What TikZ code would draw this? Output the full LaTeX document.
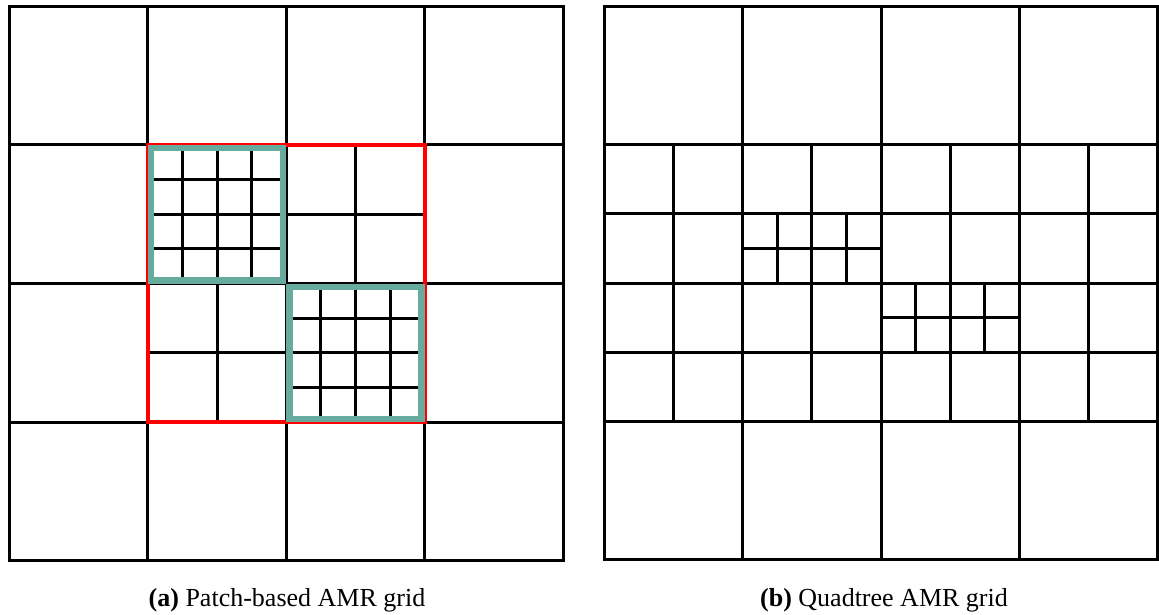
\documentclass[tikz,border=0pt]{standalone}
\usepackage{fontspec}
\setmainfont{Liberation Serif}
\definecolor{patchteal}{HTML}{67AB9F}
\begin{document}
\begin{tikzpicture}[x=1pt,y=-1pt,
  gridline/.style={black,line width=3pt,line cap=rect},
  levelbox/.style={red,line width=3.5pt},
  patchbox/.style={patchteal,line width=6.5pt},
  caption/.style={font=\fontsize{26}{31}\selectfont,anchor=base}]
\useasboundingbox (0,0) rectangle (1159,615);

% ---------- (a) patch-based AMR grid ----------
\begin{scope}[shift={(9.3,6.5)}]
  \def\c{138.5}
  % coarse 4x4 level
  \foreach \i in {0,...,4} {
    \draw[gridline] (\i*\c,0) -- (\i*\c,4*\c);
    \draw[gridline] (0,\i*\c) -- (4*\c,\i*\c);
  }
  % level-1 patch: 2x2 refinement of the central block
  \foreach \p in {1.5,2.5} {
    \draw[gridline] (\p*\c,\c) -- (\p*\c,3*\c);
    \draw[gridline] (\c,\p*\c) -- (3*\c,\p*\c);
  }
  % level-2 patches: 4x4 refinement
  \foreach \p in {1.25,1.75} {
    \draw[gridline] (\p*\c,\c) -- (\p*\c,2*\c);
    \draw[gridline] (\c,\p*\c) -- (2*\c,\p*\c);
  }
  \foreach \p in {2.25,2.75} {
    \draw[gridline] (\p*\c,2*\c) -- (\p*\c,3*\c);
    \draw[gridline] (2*\c,\p*\c) -- (3*\c,\p*\c);
  }
  \draw[levelbox] (\c,\c) rectangle (3*\c,3*\c);
  \draw[patchbox] (\c+3.25,\c+3.25) rectangle (2*\c-3.25,2*\c-3.25);
  \draw[patchbox] (2*\c+3.25,2*\c+3.25) rectangle (3*\c-3.25,3*\c-3.25);
\end{scope}
\node[caption] (capa) at (287,606) {\textbf{(a)} Patch-based AMR grid};

% ---------- (b) quadtree AMR grid ----------
\begin{scope}[shift={(604.5,6.5)}]
  \def\c{138.3}
  % root level
  \foreach \i in {0,...,4} {
    \draw[gridline] (\i*\c,0) -- (\i*\c,4*\c);
    \draw[gridline] (0,\i*\c) -- (4*\c,\i*\c);
  }
  % first refinement of the two middle rows
  \foreach \p in {0.5,1.5,2.5,3.5}
    \draw[gridline] (\p*\c,\c) -- (\p*\c,3*\c);
  \foreach \p in {1.5,2.5}
    \draw[gridline] (0,\p*\c) -- (4*\c,\p*\c);
  % second refinement
  \foreach \p in {1.25,1.75}
    \draw[gridline] (\p*\c,1.5*\c) -- (\p*\c,2*\c);
  \draw[gridline] (\c,1.75*\c) -- (2*\c,1.75*\c);
  \foreach \p in {2.25,2.75}
    \draw[gridline] (\p*\c,2*\c) -- (\p*\c,2.5*\c);
  \draw[gridline] (2*\c,2.25*\c) -- (3*\c,2.25*\c);
\end{scope}
\node[caption] (capb) at (884,606) {\textbf{(b)} Quadtree AMR grid};
\end{tikzpicture}
\end{document}
